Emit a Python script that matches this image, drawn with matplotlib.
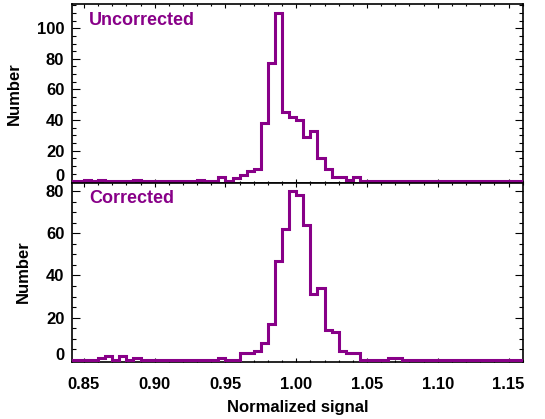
import numpy as np
import matplotlib
matplotlib.use("Agg")
import matplotlib.pyplot as plt
from matplotlib.ticker import MultipleLocator

# histogram bins: 0.005 wide, starting at 0.840
bin_start = 0.840
bin_width = 0.005

uncorrected = [0, 0, 1, 0, 1, 0, 0, 0, 0, 1,
               0, 0, 0, 0, 0, 0, 0, 0, 1, 0,
               0, 3, 0, 2, 4, 7, 8, 38, 77, 110,
               45, 42, 40, 29, 33, 15, 8, 3, 3, 1,
               3, 0, 0, 0, 0, 0, 0, 0, 0, 0,
               0, 0, 0, 0, 0, 0, 0, 0, 0, 0,
               0, 0, 0, 0]

corrected = [0, 0, 0, 0, 1, 2, 0, 2, 0, 1,
             0, 0, 0, 0, 0, 0, 0, 0, 0, 0,
             0, 1, 0, 0, 3, 3, 4, 8, 17, 47,
             62, 80, 78, 64, 31, 34, 14, 13, 4, 3,
             3, 0, 0, 0, 0, 1, 1, 0, 0, 0,
             0, 0, 0, 0, 0, 0, 0, 0, 0, 0,
             0, 0, 0, 0]

panel_names = ["Uncorrected", "Corrected"]
x_ticks = [0.85, 0.90, 0.95, 1.00, 1.05, 1.10, 1.15]

purple = "#880088"

plt.rcParams["font.family"] = ["Liberation Sans", "DejaVu Sans"]
plt.rcParams["font.weight"] = "bold"
plt.rcParams["axes.labelweight"] = "bold"

fig = plt.figure(figsize=(5.45, 4.19), dpi=100)
ax1 = fig.add_axes([0.1327, 0.5644, 0.8264, 0.4249])
ax2 = fig.add_axes([0.1327, 0.1372, 0.8264, 0.4272])

for ax, counts, name in zip([ax1, ax2], [uncorrected, corrected], panel_names):
    counts = np.array(counts)
    edges = bin_start + bin_width * np.arange(len(counts) + 1)
    ax.stairs(counts, edges, color=purple, linewidth=2.2, zorder=3)

    ax.set_xlim(0.8418, 1.16)
    ax.set_ylim(-0.8, counts.max() * 1.05)

    ax.set_xticks(x_ticks)
    ax.xaxis.set_minor_locator(MultipleLocator(0.01))
    ax.yaxis.set_major_locator(MultipleLocator(20))
    ax.yaxis.set_minor_locator(MultipleLocator(5))

    ax.tick_params(axis="both", which="both", direction="in",
                   top=True, right=True, width=0.8, labelsize=12)
    ax.tick_params(axis="x", which="major", length=2.6, pad=10.9)
    ax.tick_params(axis="x", which="minor", length=1.4)
    ax.tick_params(axis="y", which="major", length=5.8, pad=5.8)
    ax.tick_params(axis="y", which="minor", length=2.9)

    for spine in ax.spines.values():
        spine.set_linewidth(1.2)

    ax.set_ylabel("Number", fontsize=12, labelpad=11)
    ax.text(0.037, 0.958, name, transform=ax.transAxes, color=purple,
            fontsize=13, fontweight="bold", ha="left", va="top")

    # lift the zero label like the original
    ax.set_yticks([v for v in range(0, int(counts.max() * 1.05) + 1, 20)])
    ax.yaxis.get_major_ticks()[0].label1.set_va("baseline")

ax1.tick_params(axis="x", labelbottom=False)
ax2.set_xticklabels(["%.2f" % t for t in x_ticks])
ax2.set_xlabel("Normalized signal", fontsize=12, labelpad=6.3)

plt.savefig("out.png", dpi=100)
